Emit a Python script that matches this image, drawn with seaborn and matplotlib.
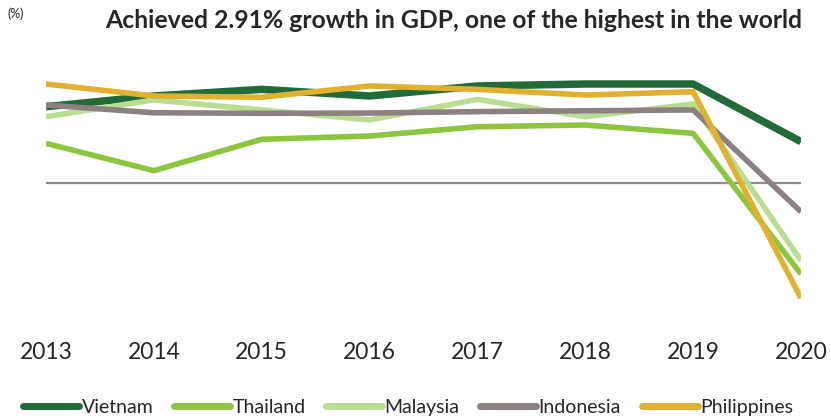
import matplotlib
matplotlib.use("Agg")
import matplotlib.pyplot as plt
import seaborn as sns
import pandas as pd
from matplotlib.lines import Line2D

years = [2013, 2014, 2015, 2016, 2017, 2018, 2019, 2020]
vietnam = [5.39, 6.15, 6.62, 6.15, 6.86, 7.00, 7.00, 2.91]
thailand = [2.79, 0.85, 3.08, 3.31, 3.97, 4.09, 3.50, -6.48]
malaysia = [4.68, 5.87, 5.16, 4.45, 5.91, 4.68, 5.58, -5.53]
indonesia = [5.51, 4.96, 4.92, 4.94, 5.04, 5.10, 5.16, -2.06]
philippines = [7.00, 6.15, 6.06, 6.86, 6.62, 6.22, 6.45, -8.18]
countries = ["Vietnam", "Thailand", "Malaysia", "Indonesia", "Philippines"]
title = "Achieved 2.91% growth in GDP, one of the highest in the world"
unit = "(%)"

series = [vietnam, thailand, malaysia, indonesia, philippines]
rows = []
for c, vals in zip(countries, series):
    for y, v in zip(years, vals):
        rows.append({"year": y, "growth": v, "country": c})
df = pd.DataFrame(rows)

colors = {"Vietnam": "#236a39", "Thailand": "#8cc63e", "Malaysia": "#b9de92",
          "Indonesia": "#8c8080", "Philippines": "#e0b02e"}
widths = {"Vietnam": 5.4, "Thailand": 4.0, "Malaysia": 4.0, "Indonesia": 4.0, "Philippines": 4.0}

sns.set_theme(style="white")
plt.rcParams['font.family'] = ['Lato', 'DejaVu Sans']

fig = plt.figure(figsize=(8.31, 4.19), dpi=100)
W, H = 831, 419
ax = fig.add_axes([46 / W, 1 - 310 / H, (801 - 46) / W, (310 - 60) / H])

ax.axhline(0, color="#8c8c8c", lw=1.6, zorder=1)
sns.lineplot(data=df, x="year", y="growth", hue="country", hue_order=countries,
             palette=colors, ax=ax, legend=False, zorder=2)
for line, c in zip(ax.get_lines()[1:], countries):
    line.set_linewidth(widths[c])
    line.set_solid_capstyle("butt")
    line.set_solid_joinstyle("miter")

ax.set_xlim(2013, 2020)
ax.set_ylim(-(310 - 182.7) / 14.1, (182.7 - 60) / 14.1)
ax.set_xticks(years)
ax.set_xticklabels([str(y) for y in years], fontsize=16.5)
ax.tick_params(axis="x", length=0, pad=23)
ax.set_yticks([])
ax.set_xlabel("")
ax.set_ylabel("")
for s in ax.spines.values():
    s.set_visible(False)

fig.text(105 / W, 1 - 20 / H, title, fontsize=17.8, fontweight="bold", va="center", ha="left")
fig.text(8 / W, 1 - 14 / H, unit, fontsize=9, va="center", ha="left")

handles = [Line2D([0], [0], color=colors[c], lw=5, solid_capstyle="round") for c in countries]
fig.legend(handles, countries, loc="center", bbox_to_anchor=(408 / W, 1 - 407 / H), ncol=5,
           frameon=False, fontsize=14, handlelength=2.9, handletextpad=0.12,
           columnspacing=1.05, borderpad=0, borderaxespad=0)

fig.savefig("out.png", dpi=100)
